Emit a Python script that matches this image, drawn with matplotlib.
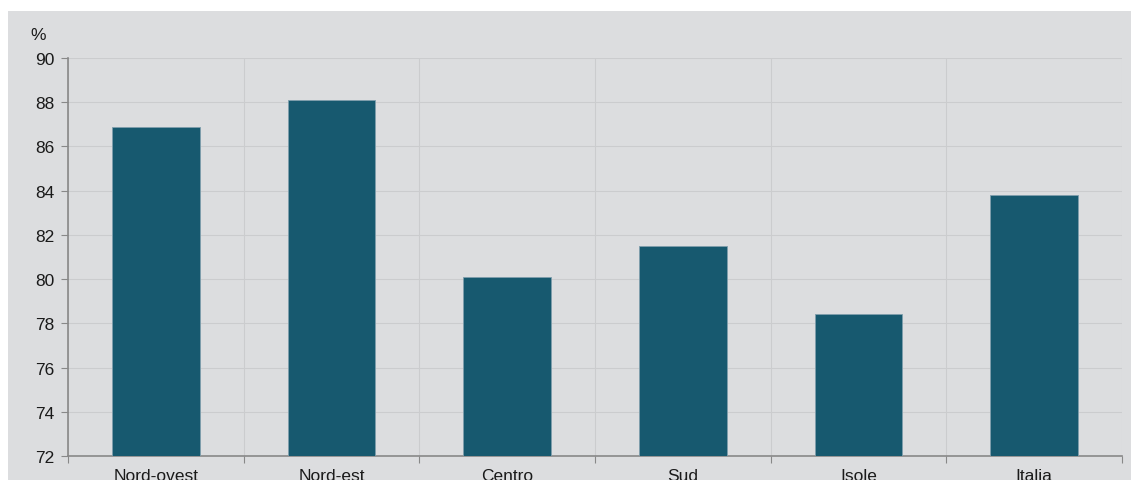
import matplotlib
matplotlib.use("Agg")
import matplotlib.pyplot as plt
from matplotlib.patches import Rectangle

categories = ["Nord-ovest", "Nord-est", "Centro", "Sud", "Isole", "Italia"]
values = [86.9, 88.1, 80.1, 81.5, 78.4, 83.8]
yticks = [72, 74, 76, 78, 80, 82, 84, 86, 88, 90]

plt.rcParams['font.family'] = ['Liberation Sans', 'DejaVu Sans']

W, H = 1131, 481
fig = plt.figure(figsize=(W / 100, H / 100), dpi=100)
fig.patch.set_facecolor("white")
panel = "#DCDDDF"
fig.patches.append(Rectangle((8 / W, 0), 1 - 8 / W, (H - 12) / H,
                             transform=fig.transFigure, facecolor=panel,
                             edgecolor="none", zorder=-5))

ax = fig.add_axes([68 / W, (H - 457) / H, (1122 - 68) / W, (457 - 59) / H])
ax.set_zorder(1)
ax.set_facecolor(panel)

x = list(range(len(categories)))
ax.bar(x, values, width=0.5, color="#17596F", edgecolor="#7F9EAD",
       linewidth=0.6, zorder=3)

ax.set_xlim(-0.5, len(categories) - 0.5)
ax.set_ylim(72, 90)
ax.set_yticks(yticks)
ax.set_yticklabels([str(t) for t in yticks], fontsize=12.5, color="#1a1a1a")

ax.set_xticks([i + 0.5 for i in range(-1, len(categories))])
ax.set_xticklabels([])
ax.set_xticks(x, minor=True)
ax.set_xticklabels(categories, minor=True, fontsize=12.5, color="#1a1a1a")
ax.tick_params(axis="x", which="minor", length=0, pad=9)
ax.tick_params(axis="x", which="major", length=5, color="#888888", direction="out")
ax.tick_params(axis="y", length=5, color="#888888", direction="out", pad=5)

ax.grid(axis="y", color="#CBCCCE", linewidth=0.8, zorder=0)
ax.grid(axis="x", which="major", color="#CBCCCE", linewidth=0.8, zorder=0)
ax.set_axisbelow(True)

for s in ["top", "right"]:
    ax.spines[s].set_visible(False)
for s in ["left", "bottom"]:
    ax.spines[s].set_color("#888888")
    ax.spines[s].set_linewidth(1.2)

fig.text(38 / W, (H - 36) / H, "%", fontsize=12.5, ha="center", va="center",
         color="#1a1a1a")

fig.savefig("out.png", dpi=100, facecolor=fig.get_facecolor())
